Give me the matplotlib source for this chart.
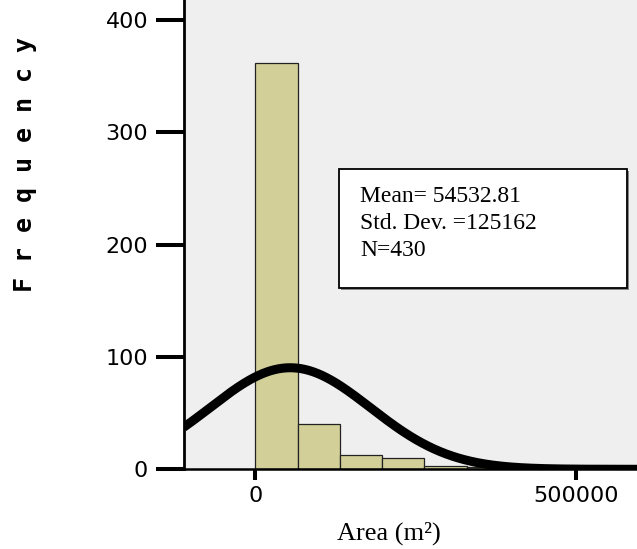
import matplotlib.pyplot as plt
import numpy as np
from matplotlib.patches import Rectangle

# Dados do histograma
bin_width = 66000
counts = [362, 40, 13, 10, 3, 2]
bin_starts = [i * bin_width for i in range(len(counts))]
mean = 54532.81
std_dev = 125162
n_total = 430

y_ticks = [0, 100, 200, 300, 400]
x_ticks = [0, 500000]
x_tick_labels = ['0', '500000']
stats_lines = ['Mean= 54532.81', 'Std. Dev. =125162', 'N=430']

W, H = 637, 549
fig = plt.figure(figsize=(W / 100, H / 100), dpi=100)
ax = fig.add_axes([183.5 / W, (H - 469.3) / H, 1 - 183.5 / W, 469.3 / H])
ax.set_facecolor('#efefef')

ax.bar(bin_starts, counts, width=bin_width, align='edge',
       color='#d3cf98', edgecolor='#222222', linewidth=0.9, zorder=2)

# Curva normal
xmin, xmax = -112000, 595600
xs = np.linspace(xmin, xmax, 600)
ys = n_total * bin_width / (std_dev * np.sqrt(2 * np.pi)) * np.exp(-0.5 * ((xs - mean) / std_dev) ** 2)
ax.plot(xs, ys, color='black', linewidth=6.5, solid_capstyle='butt', zorder=3)

ax.set_xlim(xmin, xmax)
ax.set_ylim(0, 418)

ax.set_yticks(y_ticks)
ax.set_yticklabels([str(v) for v in y_ticks], fontsize=16, family='DejaVu Sans')
ax.set_xticks(x_ticks)
ax.set_xticklabels(x_tick_labels, fontsize=16, family='DejaVu Sans')
ax.tick_params(axis='y', length=20, width=2.9, pad=5.5, direction='out')
ax.tick_params(axis='x', length=8, width=2.9, pad=4, direction='out')

for side in ['top', 'right']:
    ax.spines[side].set_visible(False)
ax.spines['left'].set_linewidth(2)
ax.spines['bottom'].set_linewidth(1.8)

# Caixa de estatisticas
bx0, bx1 = (338.7 - 183.5) / 453.5, (627 - 183.5) / 453.5
by0, by1 = (469.3 - 288) / 469.3, (469.3 - 169) / 469.3
ax.add_patch(Rectangle((bx0 + 0.004, by0 - 0.004), bx1 - bx0, by1 - by0, transform=ax.transAxes,
                       facecolor='#888888', edgecolor='none', zorder=4))
ax.add_patch(Rectangle((bx0, by0), bx1 - bx0, by1 - by0, transform=ax.transAxes,
                       facecolor='white', edgecolor='black', linewidth=1.3, zorder=5))
for i, line in enumerate(stats_lines):
    ax.text((360 - 183.5) / 453.5, (469.3 - (196 + 27.5 * i)) / 469.3, line,
            transform=ax.transAxes, family='Liberation Serif', fontsize=17,
            va='center', ha='left', zorder=6)

fig.text(389 / W, 1 - 533 / H, 'Area (m²)', family='Liberation Serif', fontsize=19,
         ha='center', va='center')
fig.text(25 / W, 1 - 165 / H, 'F r e q u e n c y', family='DejaVu Sans Mono', fontweight='bold',
         fontsize=18, rotation=90, ha='center', va='center')

fig.savefig('out.png', dpi=100)
